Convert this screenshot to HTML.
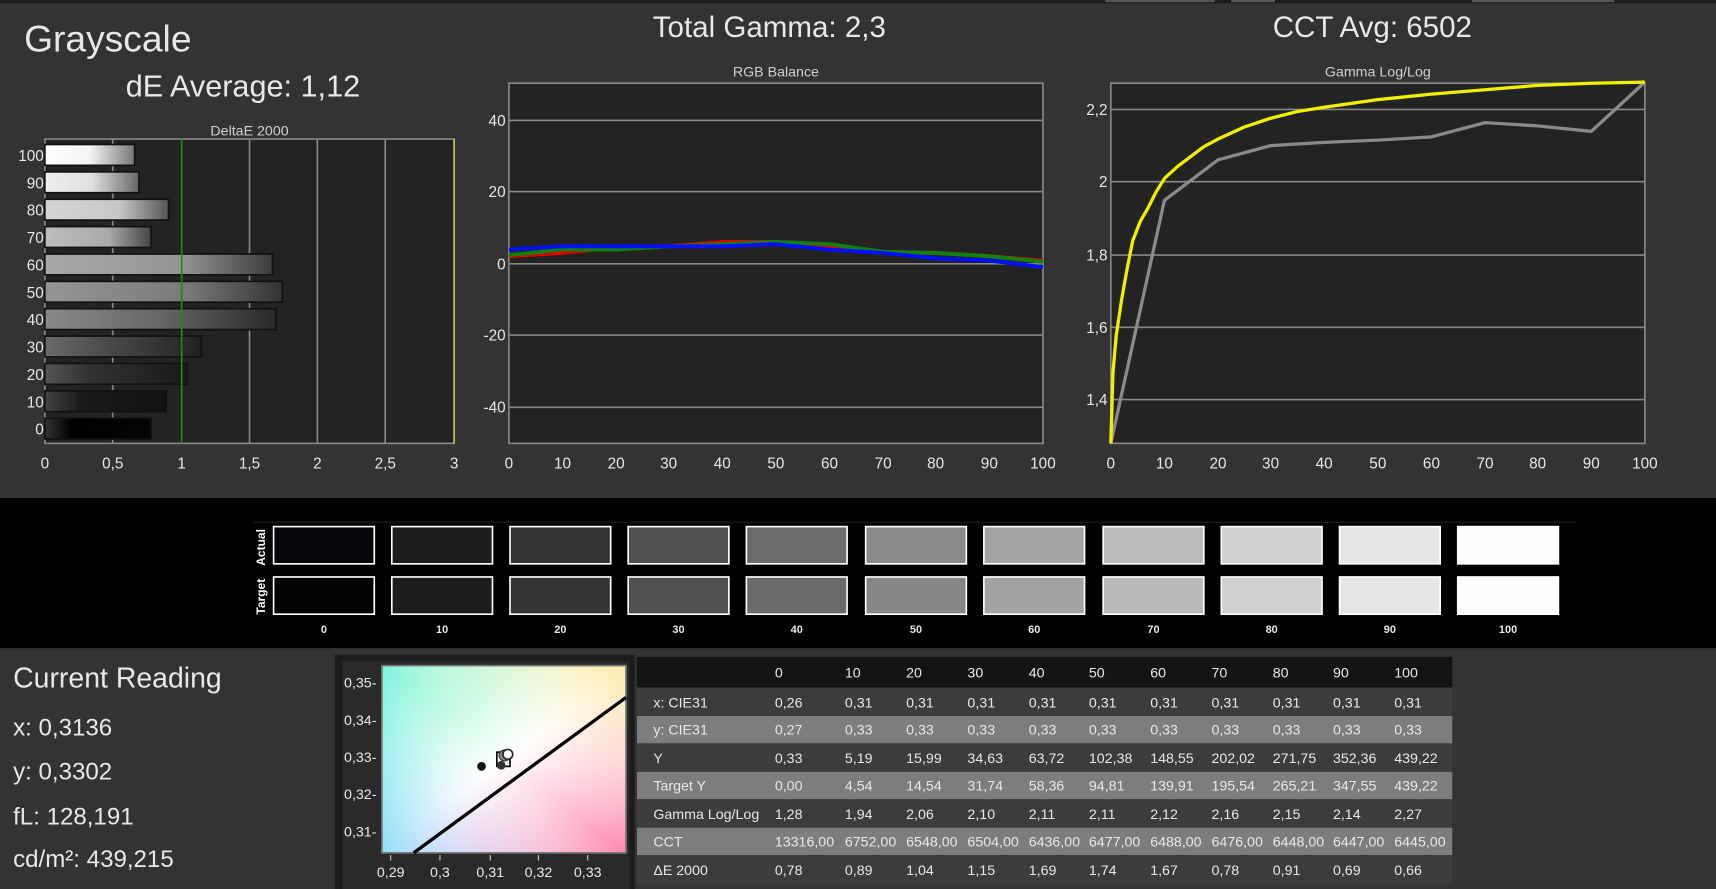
<!DOCTYPE html>
<html><head><meta charset="utf-8"><style>
html,body{margin:0;padding:0;background:#333;overflow:hidden}
svg{display:block}
text{font-family:"Liberation Sans",sans-serif;fill:#e8e8e8}
.t{font-size:13px;fill:#d0d0d0}
.tb{font-family:"Liberation Sans Narrow","Liberation Sans",sans-serif;font-size:13px;fill:#fff}
</style></head><body>
<svg width="1716" height="889" viewBox="0 0 1568 812" preserveAspectRatio="none" xmlns="http://www.w3.org/2000/svg">
<defs>
<linearGradient id="c1" x1="0" y1="0" x2="1" y2="1"><stop offset="0" stop-color="#80f5c0"/><stop offset="0.5" stop-color="#ffffff"/><stop offset="1" stop-color="#ff88b0"/></linearGradient>
<linearGradient id="c2" x1="1" y1="0" x2="0" y2="1"><stop offset="0" stop-color="#ffe8a0" stop-opacity="0.9"/><stop offset="0.5" stop-color="#ffffff" stop-opacity="0"/><stop offset="1" stop-color="#a0c0ff" stop-opacity="0.9"/></linearGradient>
<linearGradient id="c3" x1="0" y1="0" x2="1" y2="0"><stop offset="0" stop-color="#80f0f0" stop-opacity="0.6"/><stop offset="0.4" stop-color="#ffffff" stop-opacity="0"/></linearGradient>
<linearGradient id="b10" x1="0" x2="1"><stop offset="0" stop-color="#fff"/><stop offset="0.5" stop-color="#f4f4f4"/><stop offset="1" stop-color="#777"/></linearGradient>
<linearGradient id="b9" x1="0" x2="1"><stop offset="0" stop-color="#eee"/><stop offset="0.5" stop-color="#e0e0e0"/><stop offset="1" stop-color="#666"/></linearGradient>
<linearGradient id="b8" x1="0" x2="1"><stop offset="0" stop-color="#d4d4d4"/><stop offset="0.6" stop-color="#c8c8c8"/><stop offset="1" stop-color="#555"/></linearGradient>
<linearGradient id="b7" x1="0" x2="1"><stop offset="0" stop-color="#bdbdbd"/><stop offset="0.6" stop-color="#aaa"/><stop offset="1" stop-color="#444"/></linearGradient>
<linearGradient id="b6" x1="0" x2="1"><stop offset="0" stop-color="#a8a8a8"/><stop offset="0.6" stop-color="#959595"/><stop offset="1" stop-color="#3c3c3c"/></linearGradient>
<linearGradient id="b5" x1="0" x2="1"><stop offset="0" stop-color="#959595"/><stop offset="0.6" stop-color="#7a7a7a"/><stop offset="1" stop-color="#333"/></linearGradient>
<linearGradient id="b4" x1="0" x2="1"><stop offset="0" stop-color="#8a8a8a"/><stop offset="0.5" stop-color="#666"/><stop offset="1" stop-color="#2a2a2a"/></linearGradient>
<linearGradient id="b3" x1="0" x2="1"><stop offset="0" stop-color="#6a6a6a"/><stop offset="0.4" stop-color="#4a4a4a"/><stop offset="1" stop-color="#222"/></linearGradient>
<linearGradient id="b2" x1="0" x2="1"><stop offset="0" stop-color="#555"/><stop offset="0.3" stop-color="#333"/><stop offset="1" stop-color="#1a1a1a"/></linearGradient>
<linearGradient id="b1" x1="0" x2="1"><stop offset="0" stop-color="#444"/><stop offset="0.3" stop-color="#1a1a1a"/><stop offset="1" stop-color="#111"/></linearGradient>
<linearGradient id="b0" x1="0" x2="1"><stop offset="0" stop-color="#333"/><stop offset="0.25" stop-color="#000"/><stop offset="1" stop-color="#050505"/></linearGradient>
</defs>
<rect x="0" y="0" width="1568" height="812" fill="#333"/>
<rect x="0" y="0" width="1568" height="3" fill="#1c1c1c"/>
<rect x="1010" y="0" width="100" height="2" fill="#555"/><rect x="1125" y="0" width="40" height="2" fill="#555"/><rect x="1345" y="0" width="130" height="2" fill="#555"/>

<text x="22" y="47" style="font-size:34px">Grayscale</text>
<text x="222" y="88" text-anchor="middle" style="font-size:28px">dE Average: 1,12</text>
<text x="703" y="34" text-anchor="middle" style="font-size:27px">Total Gamma: 2,3</text>
<text x="1254" y="34" text-anchor="middle" style="font-size:27px">CCT Avg: 6502</text>

<!-- DeltaE chart -->
<text x="228" y="124" text-anchor="middle" class="t">DeltaE 2000</text>
<rect x="41" y="127" width="374" height="278" fill="#232323" stroke="#888" stroke-width="1.5"/>
<g stroke="#888" stroke-width="1.5"><line x1="103" y1="127" x2="103" y2="405"/><line x1="228" y1="127" x2="228" y2="405"/><line x1="290" y1="127" x2="290" y2="405"/><line x1="352" y1="127" x2="352" y2="405"/></g>
<line x1="415" y1="127" x2="415" y2="405" stroke="#c8c050" stroke-width="1.5"/>
<g stroke="#111" stroke-width="1.5">
<rect x="41" y="132" width="82" height="19" fill="url(#b10)"/>
<rect x="41" y="157" width="86" height="19" fill="url(#b9)"/>
<rect x="41" y="182" width="113" height="19" fill="url(#b8)"/>
<rect x="41" y="207" width="97" height="19" fill="url(#b7)"/>
<rect x="41" y="232" width="208" height="19" fill="url(#b6)"/>
<rect x="41" y="257" width="217" height="19" fill="url(#b5)"/>
<rect x="41" y="282" width="211" height="19" fill="url(#b4)"/>
<rect x="41" y="307" width="143" height="19" fill="url(#b3)"/>
<rect x="41" y="332" width="130" height="19" fill="url(#b2)"/>
<rect x="41" y="357" width="111" height="19" fill="url(#b1)"/>
<rect x="41" y="382" width="97" height="19" fill="url(#b0)"/>
</g>
<line x1="166" y1="127" x2="166" y2="405" stroke="#1a8a1a" stroke-width="1.5"/>
<g class="t" text-anchor="end" style="font-size:14px">
<text x="40" y="147">100</text><text x="40" y="172">90</text><text x="40" y="197">80</text><text x="40" y="222">70</text><text x="40" y="247">60</text><text x="40" y="272">50</text><text x="40" y="297">40</text><text x="40" y="322">30</text><text x="40" y="347">20</text><text x="40" y="372">10</text><text x="40" y="397">0</text>
</g>
<g class="t" text-anchor="middle" style="font-size:14px">
<text x="41" y="428">0</text><text x="103" y="428">0,5</text><text x="166" y="428">1</text><text x="228" y="428">1,5</text><text x="290" y="428">2</text><text x="352" y="428">2,5</text><text x="415" y="428">3</text>
</g>

<!-- RGB Balance -->
<text x="709" y="70" text-anchor="middle" class="t">RGB Balance</text>
<rect x="465" y="76" width="488" height="329" fill="#232323" stroke="#888" stroke-width="1.5"/>
<g stroke="#888" stroke-width="1.5"><line x1="465" y1="110" x2="953" y2="110"/><line x1="465" y1="175" x2="953" y2="175"/><line x1="465" y1="241" x2="953" y2="241"/><line x1="465" y1="306" x2="953" y2="306"/><line x1="465" y1="372" x2="953" y2="372"/></g>
<g class="t" text-anchor="end" style="font-size:14px"><text x="462" y="115">40</text><text x="462" y="180">20</text><text x="462" y="246">0</text><text x="462" y="311">-20</text><text x="462" y="377">-40</text></g>
<g class="t" text-anchor="middle" style="font-size:14px"><text x="465" y="428">0</text><text x="514" y="428">10</text><text x="563" y="428">20</text><text x="611" y="428">30</text><text x="660" y="428">40</text><text x="709" y="428">50</text><text x="758" y="428">60</text><text x="807" y="428">70</text><text x="855" y="428">80</text><text x="904" y="428">90</text><text x="953" y="428">100</text></g>
<g fill="none" stroke-width="3.5" stroke-linejoin="round">
<polyline stroke="#e00000" points="465,234 514,231 563,226 611,225 660,221 709,221 758,225 807,230 855,231 904,234 953,238"/>
<polyline stroke="#108010" points="465,233 514,228 563,228 611,225 660,223 709,221 758,223 807,230 855,231 904,234 953,239"/>
<polyline stroke="#0010ff" points="465,228 514,225 563,225 611,225 660,225 709,223 758,228 807,231 855,236 904,238 953,244"/>
</g>

<!-- Gamma -->
<text x="1259" y="70" text-anchor="middle" class="t">Gamma Log/Log</text>
<rect x="1015" y="76" width="488" height="329" fill="#232323" stroke="#888" stroke-width="1.5"/>
<g stroke="#888" stroke-width="1.5"><line x1="1015" y1="100" x2="1503" y2="100"/><line x1="1015" y1="166" x2="1503" y2="166"/><line x1="1015" y1="233" x2="1503" y2="233"/><line x1="1015" y1="299" x2="1503" y2="299"/><line x1="1015" y1="365" x2="1503" y2="365"/></g>
<g class="t" text-anchor="end" style="font-size:14px"><text x="1012" y="105">2,2</text><text x="1012" y="171">2</text><text x="1012" y="238">1,8</text><text x="1012" y="304">1,6</text><text x="1012" y="370">1,4</text></g>
<g class="t" text-anchor="middle" style="font-size:14px"><text x="1015" y="428">0</text><text x="1064" y="428">10</text><text x="1113" y="428">20</text><text x="1161" y="428">30</text><text x="1210" y="428">40</text><text x="1259" y="428">50</text><text x="1308" y="428">60</text><text x="1357" y="428">70</text><text x="1405" y="428">80</text><text x="1454" y="428">90</text><text x="1503" y="428">100</text></g>
<polyline fill="none" stroke="#8a8a8a" stroke-width="3" points="1015,405 1064,183 1113,146 1161,133 1210,130 1259,128 1308,125 1357,112 1405,115 1454,120 1503,75"/>
<polyline fill="none" stroke="#f0f000" stroke-width="3" stroke-linejoin="round" points="1015,405 1017,340 1020,306 1025,273 1030,245 1035,220 1042,202 1049,190 1056,176 1064,163 1076,152 1088,143 1100,134 1113,127 1137,116 1161,108 1185,102 1210,98 1259,91 1308,86 1357,82 1405,78 1454,76 1503,75"/>

<!-- swatch band -->
<rect x="0" y="455" width="1568" height="137" fill="#000"/>
<line x1="232" y1="477" x2="1440" y2="477" stroke="#222" stroke-width="1"/>
<text transform="translate(242,500) rotate(-90)" text-anchor="middle" style="font-size:11px;font-weight:bold;fill:#fff">Actual</text>
<text transform="translate(242,545) rotate(-90)" text-anchor="middle" style="font-size:11px;font-weight:bold;fill:#fff">Target</text>
<g stroke="#fff" stroke-width="1.5">
<rect x="250" y="481" width="92" height="34" fill="#05050a"/><rect x="250" y="527" width="92" height="34" fill="#020202"/>
<rect x="358" y="481" width="92" height="34" fill="#1d1d1d"/><rect x="358" y="527" width="92" height="34" fill="#1d1d1d"/>
<rect x="466" y="481" width="92" height="34" fill="#353535"/><rect x="466" y="527" width="92" height="34" fill="#353535"/>
<rect x="574" y="481" width="92" height="34" fill="#505050"/><rect x="574" y="527" width="92" height="34" fill="#505050"/>
<rect x="682" y="481" width="92" height="34" fill="#6c6c6c"/><rect x="682" y="527" width="92" height="34" fill="#6b6b6b"/>
<rect x="791" y="481" width="92" height="34" fill="#898989"/><rect x="791" y="527" width="92" height="34" fill="#878787"/>
<rect x="899" y="481" width="92" height="34" fill="#a3a3a3"/><rect x="899" y="527" width="92" height="34" fill="#a2a2a2"/>
<rect x="1008" y="481" width="92" height="34" fill="#bbbbbb"/><rect x="1008" y="527" width="92" height="34" fill="#bababa"/>
<rect x="1116" y="481" width="92" height="34" fill="#d0d0d0"/><rect x="1116" y="527" width="92" height="34" fill="#d0d0d0"/>
<rect x="1224" y="481" width="92" height="34" fill="#e6e6e6"/><rect x="1224" y="527" width="92" height="34" fill="#e6e6e6"/>
<rect x="1332" y="481" width="92" height="34" fill="#fdfdfd"/><rect x="1332" y="527" width="92" height="34" fill="#fdfdfd"/>
</g>
<g text-anchor="middle" style="font-size:10px;font-weight:bold"><text x="296" y="578">0</text><text x="404" y="578">10</text><text x="512" y="578">20</text><text x="620" y="578">30</text><text x="728" y="578">40</text><text x="837" y="578">50</text><text x="945" y="578">60</text><text x="1054" y="578">70</text><text x="1162" y="578">80</text><text x="1270" y="578">90</text><text x="1378" y="578">100</text></g>

<!-- current reading -->
<g style="font-size:22px"><text x="12" y="628" style="font-size:26px">Current Reading</text>
<text x="12" y="672">x: 0,3136</text><text x="12" y="712">y: 0,3302</text><text x="12" y="753">fL: 128,191</text><text x="12" y="792">cd/m²: 439,215</text></g>

<!-- CIE -->
<rect x="306" y="598" width="274" height="214" fill="#1c1c1c"/>
<rect x="313" y="604" width="262" height="208" fill="#2a2a2a"/>
<rect x="349" y="608" width="223" height="171" fill="url(#c1)"/>
<rect x="349" y="608" width="223" height="171" fill="url(#c2)"/>
<rect x="349" y="608" width="223" height="171" fill="url(#c3)"/>
<rect x="349" y="608" width="223" height="171" fill="none" stroke="#777" stroke-width="1.5"/>
<line x1="378" y1="779" x2="572" y2="637" stroke="#000" stroke-width="3"/>
<circle cx="440" cy="700" r="4" fill="#111"/>
<rect x="454" y="687" width="12" height="13" fill="none" stroke="#000" stroke-width="1.5"/>
<circle cx="458" cy="699" r="4" fill="#333"/>
<circle cx="461" cy="690" r="5" fill="#888" stroke="#333"/>
<circle cx="464" cy="689" r="4.5" fill="#fff" stroke="#222" stroke-width="1.5"/>
<g class="t" text-anchor="end" style="font-size:13px"><text x="344" y="628">0,35-</text><text x="344" y="662">0,34-</text><text x="344" y="696">0,33-</text><text x="344" y="730">0,32-</text><text x="344" y="764">0,31-</text></g>
<g stroke="#ccc"><line x1="357" y1="781" x2="357" y2="786"/><line x1="402" y1="781" x2="402" y2="786"/><line x1="448" y1="781" x2="448" y2="786"/><line x1="492" y1="781" x2="492" y2="786"/><line x1="537" y1="781" x2="537" y2="786"/></g>
<g class="t" text-anchor="middle" style="font-size:13px"><text x="357" y="801">0,29</text><text x="402" y="801">0,3</text><text x="448" y="801">0,31</text><text x="492" y="801">0,32</text><text x="537" y="801">0,33</text></g>

<!-- table -->
<rect x="582" y="600" width="745" height="28" fill="#141414"/>
<rect x="582" y="628" width="745" height="26" fill="#3c3c3c"/>
<rect x="582" y="654" width="745" height="25" fill="#7d7d7d"/>
<rect x="582" y="679" width="745" height="26" fill="#3c3c3c"/>
<rect x="582" y="705" width="745" height="25" fill="#7d7d7d"/>
<rect x="582" y="730" width="745" height="26" fill="#3c3c3c"/>
<rect x="582" y="756" width="745" height="25" fill="#7d7d7d"/>
<rect x="582" y="781" width="745" height="27" fill="#3c3c3c"/>
<g class="tb">
<text x="708" y="619">0</text><text x="772" y="619">10</text><text x="828" y="619">20</text><text x="884" y="619">30</text><text x="940" y="619">40</text><text x="995" y="619">50</text><text x="1051" y="619">60</text><text x="1107" y="619">70</text><text x="1163" y="619">80</text><text x="1218" y="619">90</text><text x="1274" y="619">100</text>
<text x="597" y="646">x: CIE31</text><text x="708" y="646">0,26</text><text x="772" y="646">0,31</text><text x="828" y="646">0,31</text><text x="884" y="646">0,31</text><text x="940" y="646">0,31</text><text x="995" y="646">0,31</text><text x="1051" y="646">0,31</text><text x="1107" y="646">0,31</text><text x="1163" y="646">0,31</text><text x="1218" y="646">0,31</text><text x="1274" y="646">0,31</text>
<text x="597" y="671">y: CIE31</text><text x="708" y="671">0,27</text><text x="772" y="671">0,33</text><text x="828" y="671">0,33</text><text x="884" y="671">0,33</text><text x="940" y="671">0,33</text><text x="995" y="671">0,33</text><text x="1051" y="671">0,33</text><text x="1107" y="671">0,33</text><text x="1163" y="671">0,33</text><text x="1218" y="671">0,33</text><text x="1274" y="671">0,33</text>
<text x="597" y="697">Y</text><text x="708" y="697">0,33</text><text x="772" y="697">5,19</text><text x="828" y="697">15,99</text><text x="884" y="697">34,63</text><text x="940" y="697">63,72</text><text x="995" y="697">102,38</text><text x="1051" y="697">148,55</text><text x="1107" y="697">202,02</text><text x="1163" y="697">271,75</text><text x="1218" y="697">352,36</text><text x="1274" y="697">439,22</text>
<text x="597" y="722">Target Y</text><text x="708" y="722">0,00</text><text x="772" y="722">4,54</text><text x="828" y="722">14,54</text><text x="884" y="722">31,74</text><text x="940" y="722">58,36</text><text x="995" y="722">94,81</text><text x="1051" y="722">139,91</text><text x="1107" y="722">195,54</text><text x="1163" y="722">265,21</text><text x="1218" y="722">347,55</text><text x="1274" y="722">439,22</text>
<text x="597" y="748">Gamma Log/Log</text><text x="708" y="748">1,28</text><text x="772" y="748">1,94</text><text x="828" y="748">2,06</text><text x="884" y="748">2,10</text><text x="940" y="748">2,11</text><text x="995" y="748">2,11</text><text x="1051" y="748">2,12</text><text x="1107" y="748">2,16</text><text x="1163" y="748">2,15</text><text x="1218" y="748">2,14</text><text x="1274" y="748">2,27</text>
<text x="597" y="773">CCT</text><text x="708" y="773">13316,00</text><text x="772" y="773">6752,00</text><text x="828" y="773">6548,00</text><text x="884" y="773">6504,00</text><text x="940" y="773">6436,00</text><text x="995" y="773">6477,00</text><text x="1051" y="773">6488,00</text><text x="1107" y="773">6476,00</text><text x="1163" y="773">6448,00</text><text x="1218" y="773">6447,00</text><text x="1274" y="773">6445,00</text>
<text x="597" y="799">ΔE 2000</text><text x="708" y="799">0,78</text><text x="772" y="799">0,89</text><text x="828" y="799">1,04</text><text x="884" y="799">1,15</text><text x="940" y="799">1,69</text><text x="995" y="799">1,74</text><text x="1051" y="799">1,67</text><text x="1107" y="799">0,78</text><text x="1163" y="799">0,91</text><text x="1218" y="799">0,69</text><text x="1274" y="799">0,66</text>
</g>
</svg>
</body></html>
